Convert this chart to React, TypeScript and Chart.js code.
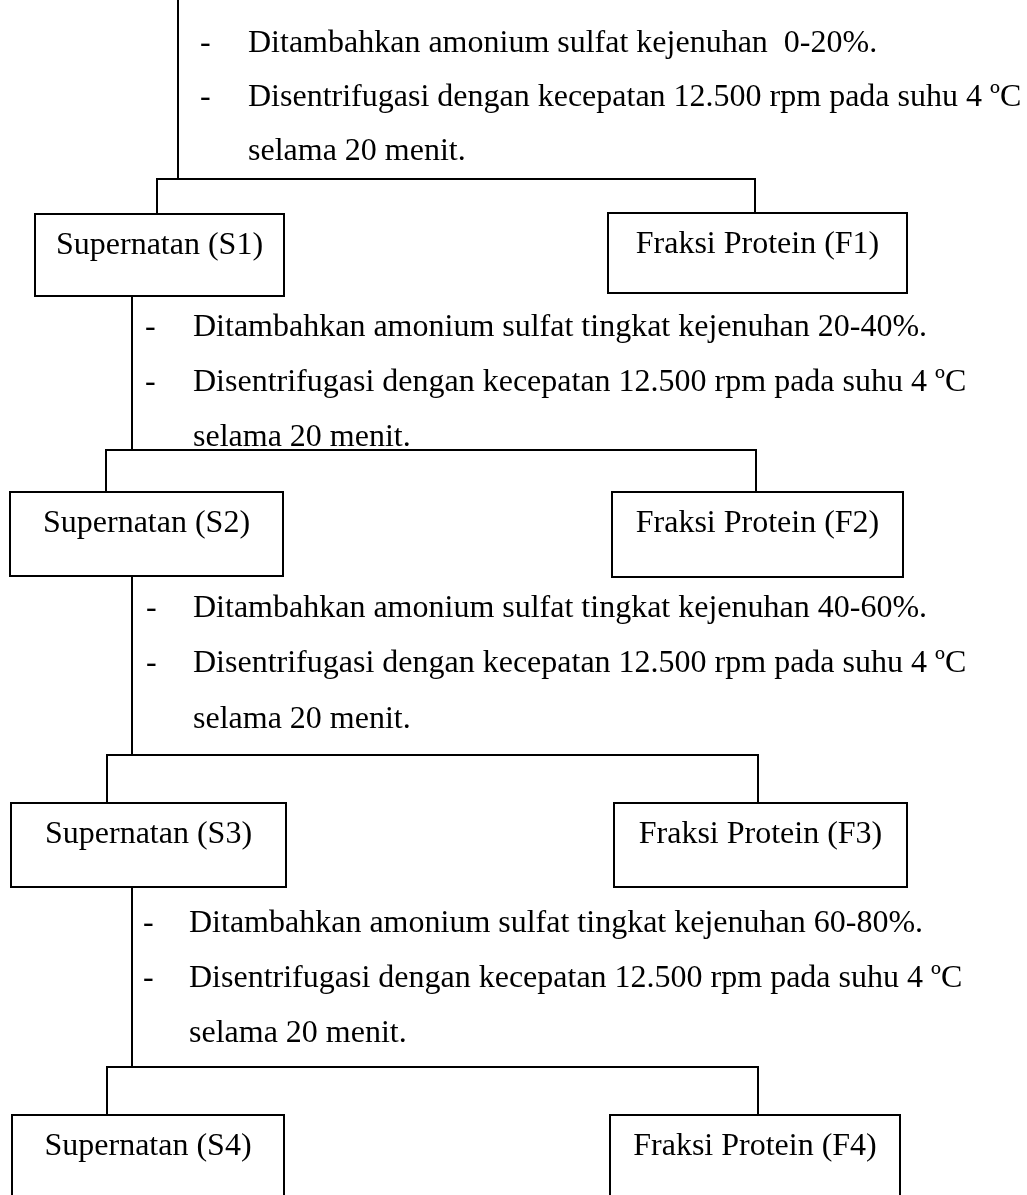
import React, { useEffect, useRef } from "react";
import { Chart, registerables } from "chart.js";

Chart.register(...registerables);

// ---- Content (data) ----
const additionLines = [
  "Ditambahkan amonium sulfat kejenuhan  0-20%.",
  "Ditambahkan amonium sulfat tingkat kejenuhan 20-40%.",
  "Ditambahkan amonium sulfat tingkat kejenuhan 40-60%.",
  "Ditambahkan amonium sulfat tingkat kejenuhan 60-80%.",
];
const centrifugeLine = "Disentrifugasi dengan kecepatan 12.500 rpm pada suhu 4 ºC";
const durationLine = "selama 20 menit.";
const supernatantLabels = ["Supernatan (S1)", "Supernatan (S2)", "Supernatan (S3)", "Supernatan (S4)"];
const fractionLabels = ["Fraksi Protein (F1)", "Fraksi Protein (F2)", "Fraksi Protein (F3)", "Fraksi Protein (F4)"];

// ---- Layout (positions in canvas units, y downward) ----
const W = 1027;
const H = 1195;
const trunkX = [178, 132, 132, 132];
const trunkTop = [0, 296, 576, 887];
const branchY = [179, 450, 755, 1067];
const leftDropX = [157, 106, 107, 107];
const rightDropX = [755, 756, 758, 758];
const sBoxL = [35, 10, 11, 12];
const sBoxR = [284, 283, 286, 284];
const sBoxT = [214, 492, 803, 1115];
const sBoxB = [296, 576, 887, 1210];
const fBoxL = [608, 612, 614, 610];
const fBoxR = [907, 903, 907, 900];
const fBoxT = [213, 492, 803, 1115];
const fBoxB = [293, 577, 887, 1210];
const dashX = [200, 145, 146, 143];
const textX = [248, 193, 193, 189];
const textBase = [
  [52, 106, 160],
  [336, 391, 446],
  [617, 672, 728],
  [932, 987, 1042],
];
const FONT = '32px "Liberation Serif", "Times New Roman", serif';

type P = { x: number; y: number };

function lineDs(points: P[]) {
  return {
    data: points,
    showLine: true,
    borderColor: "#000",
    backgroundColor: "#000",
    borderWidth: 2,
    borderCapStyle: "square",
    borderJoinStyle: "miter",
    pointRadius: 0,
    pointHoverRadius: 0,
    tension: 0,
    fill: false,
  };
}

function buildDatasets() {
  const ds: any[] = [];
  for (let i = 0; i < 4; i++) {
    // trunk
    ds.push(lineDs([{ x: trunkX[i], y: trunkTop[i] }, { x: trunkX[i], y: branchY[i] }]));
    // branch with drops
    ds.push(
      lineDs([
        { x: leftDropX[i], y: sBoxT[i] },
        { x: leftDropX[i], y: branchY[i] },
        { x: rightDropX[i], y: branchY[i] },
        { x: rightDropX[i], y: fBoxT[i] },
      ])
    );
    // supernatant box
    ds.push(
      lineDs([
        { x: sBoxL[i], y: sBoxT[i] },
        { x: sBoxR[i], y: sBoxT[i] },
        { x: sBoxR[i], y: sBoxB[i] },
        { x: sBoxL[i], y: sBoxB[i] },
        { x: sBoxL[i], y: sBoxT[i] },
      ])
    );
    // fraction box
    ds.push(
      lineDs([
        { x: fBoxL[i], y: fBoxT[i] },
        { x: fBoxR[i], y: fBoxT[i] },
        { x: fBoxR[i], y: fBoxB[i] },
        { x: fBoxL[i], y: fBoxB[i] },
        { x: fBoxL[i], y: fBoxT[i] },
      ])
    );
  }
  return ds;
}

const textPlugin = {
  id: "flowText",
  afterDatasetsDraw(chart: any) {
    const ctx = chart.ctx;
    const xs = chart.scales.x;
    const ys = chart.scales.y;
    const px = (v: number) => xs.getPixelForValue(v);
    const py = (v: number) => ys.getPixelForValue(v);
    ctx.save();
    ctx.font = FONT;
    ctx.fillStyle = "#000";
    ctx.textBaseline = "alphabetic";
    for (let i = 0; i < 4; i++) {
      const lines = [additionLines[i], centrifugeLine, durationLine];
      ctx.textAlign = "left";
      ctx.fillText("-", px(dashX[i]), py(textBase[i][0]));
      ctx.fillText("-", px(dashX[i]), py(textBase[i][1]));
      lines.forEach((t, k) => ctx.fillText(t, px(textX[i]), py(textBase[i][k])));
      ctx.textAlign = "center";
      ctx.fillText(supernatantLabels[i], px((sBoxL[i] + sBoxR[i]) / 2), py(sBoxT[i] + 40));
      ctx.fillText(fractionLabels[i], px((fBoxL[i] + fBoxR[i]) / 2), py(fBoxT[i] + 40));
    }
    ctx.restore();
  },
};

export default function App() {
  const ref = useRef<HTMLCanvasElement | null>(null);
  useEffect(() => {
    if (!ref.current) return;
    const chart = new Chart(ref.current, {
      type: "scatter",
      data: { datasets: buildDatasets() },
      options: {
        animation: false,
        responsive: false,
        maintainAspectRatio: false,
        devicePixelRatio: 1,
        layout: { padding: 0 },
        events: [],
        scales: {
          x: { type: "linear", min: 0, max: W, display: false },
          y: { type: "linear", min: 0, max: H, reverse: true, display: false },
        },
        plugins: { legend: { display: false }, tooltip: { enabled: false } },
      },
      plugins: [textPlugin],
    } as any);
    return () => chart.destroy();
  }, []);
  return (
    <div style={{ position: "absolute", left: 0, top: 0, width: W, height: H, background: "#fff" }}>
      <canvas ref={ref} width={W} height={H} style={{ display: "block" }} />
    </div>
  );
}
